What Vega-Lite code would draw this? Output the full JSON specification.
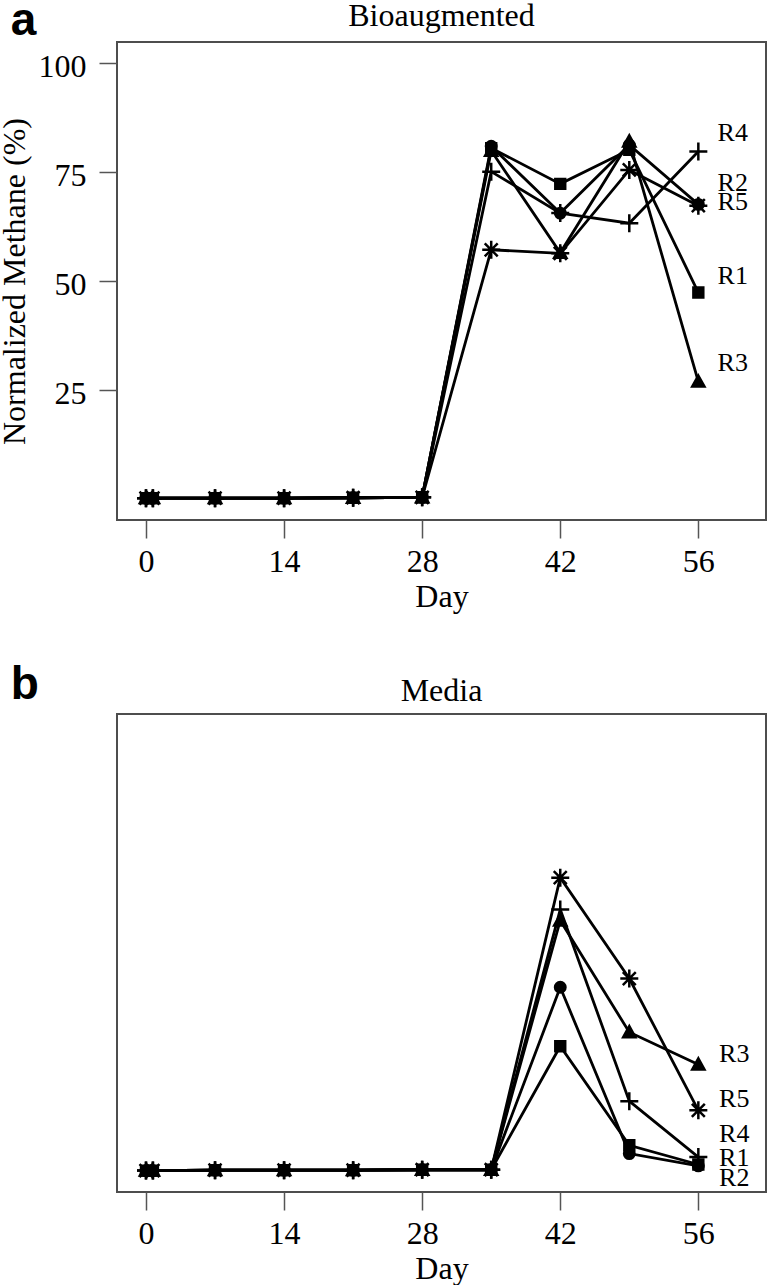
{
  "$schema": "https://vega.github.io/schema/vega-lite/v6.json",
  "background": "white",
  "padding": {"left": -3, "top": -3, "right": 0, "bottom": 0},
  "spacing": 48,
  "config": {
    "font": "Liberation Serif",
    "view": {"stroke": "#4d4d4d", "strokeWidth": 2},
    "axis": {
      "grid": false, "domain": false,
      "tickColor": "#555555", "tickSize": 18, "tickWidth": 1.5,
      "labelFont": "Liberation Serif", "labelFontSize": 32, "labelColor": "black",
      "labelFlush": false, "labelOverlap": false,
      "titleFont": "Liberation Serif", "titleFontSize": 32, "titleFontWeight": "normal", "titleColor": "black"
    },
    "title": {"font": "Liberation Serif", "fontSize": 32, "fontWeight": "normal", "color": "black", "frame": "group", "anchor": "middle", "baseline": "alphabetic"}
  },
  "datasets": {
    "bio": [
      {"reactor": "R1", "day": 0, "value": 0.2}, {"reactor": "R1", "day": 0.7, "value": 0.2}, {"reactor": "R1", "day": 7, "value": 0.2}, {"reactor": "R1", "day": 14, "value": 0.2}, {"reactor": "R1", "day": 21, "value": 0.3}, {"reactor": "R1", "day": 28, "value": 0.4},
      {"reactor": "R1", "day": 35, "value": 80.4}, {"reactor": "R1", "day": 42, "value": 72.2}, {"reactor": "R1", "day": 49, "value": 80.0}, {"reactor": "R1", "day": 56, "value": 47.3},
      {"reactor": "R2", "day": 0, "value": 0.2}, {"reactor": "R2", "day": 0.7, "value": 0.2}, {"reactor": "R2", "day": 7, "value": 0.2}, {"reactor": "R2", "day": 14, "value": 0.2}, {"reactor": "R2", "day": 21, "value": 0.3}, {"reactor": "R2", "day": 28, "value": 0.4},
      {"reactor": "R2", "day": 35, "value": 80.8}, {"reactor": "R2", "day": 42, "value": 65.5}, {"reactor": "R2", "day": 49, "value": 81.1}, {"reactor": "R2", "day": 56, "value": 67.5},
      {"reactor": "R3", "day": 0, "value": 0.2}, {"reactor": "R3", "day": 0.7, "value": 0.2}, {"reactor": "R3", "day": 7, "value": 0.2}, {"reactor": "R3", "day": 14, "value": 0.2}, {"reactor": "R3", "day": 21, "value": 0.3}, {"reactor": "R3", "day": 28, "value": 0.4},
      {"reactor": "R3", "day": 35, "value": 79.8}, {"reactor": "R3", "day": 42, "value": 56.4}, {"reactor": "R3", "day": 49, "value": 81.9}, {"reactor": "R3", "day": 56, "value": 26.9},
      {"reactor": "R4", "day": 0, "value": 0.2}, {"reactor": "R4", "day": 0.7, "value": 0.2}, {"reactor": "R4", "day": 7, "value": 0.2}, {"reactor": "R4", "day": 14, "value": 0.2}, {"reactor": "R4", "day": 21, "value": 0.3}, {"reactor": "R4", "day": 28, "value": 0.4},
      {"reactor": "R4", "day": 35, "value": 75.0}, {"reactor": "R4", "day": 42, "value": 65.5}, {"reactor": "R4", "day": 49, "value": 63.2}, {"reactor": "R4", "day": 56, "value": 79.6},
      {"reactor": "R5", "day": 0, "value": 0.2}, {"reactor": "R5", "day": 0.7, "value": 0.2}, {"reactor": "R5", "day": 7, "value": 0.2}, {"reactor": "R5", "day": 14, "value": 0.2}, {"reactor": "R5", "day": 21, "value": 0.3}, {"reactor": "R5", "day": 28, "value": 0.4},
      {"reactor": "R5", "day": 35, "value": 57.1}, {"reactor": "R5", "day": 42, "value": 56.3}, {"reactor": "R5", "day": 49, "value": 75.4}, {"reactor": "R5", "day": 56, "value": 67.2}
    ],
    "media": [
      {"reactor": "R1", "day": 0, "value": 0.1}, {"reactor": "R1", "day": 0.7, "value": 0.1}, {"reactor": "R1", "day": 7, "value": 0.2}, {"reactor": "R1", "day": 14, "value": 0.2}, {"reactor": "R1", "day": 21, "value": 0.2}, {"reactor": "R1", "day": 28, "value": 0.3}, {"reactor": "R1", "day": 35, "value": 0.3},
      {"reactor": "R1", "day": 42, "value": 28.6}, {"reactor": "R1", "day": 49, "value": 5.9}, {"reactor": "R1", "day": 56, "value": 1.5},
      {"reactor": "R2", "day": 0, "value": 0.1}, {"reactor": "R2", "day": 0.7, "value": 0.1}, {"reactor": "R2", "day": 7, "value": 0.2}, {"reactor": "R2", "day": 14, "value": 0.2}, {"reactor": "R2", "day": 21, "value": 0.2}, {"reactor": "R2", "day": 28, "value": 0.3}, {"reactor": "R2", "day": 35, "value": 0.3},
      {"reactor": "R2", "day": 42, "value": 42.1}, {"reactor": "R2", "day": 49, "value": 4.0}, {"reactor": "R2", "day": 56, "value": 1.2},
      {"reactor": "R3", "day": 0, "value": 0.1}, {"reactor": "R3", "day": 0.7, "value": 0.1}, {"reactor": "R3", "day": 7, "value": 0.2}, {"reactor": "R3", "day": 14, "value": 0.2}, {"reactor": "R3", "day": 21, "value": 0.2}, {"reactor": "R3", "day": 28, "value": 0.3}, {"reactor": "R3", "day": 35, "value": 0.3},
      {"reactor": "R3", "day": 42, "value": 57.4}, {"reactor": "R3", "day": 49, "value": 31.8}, {"reactor": "R3", "day": 56, "value": 24.4},
      {"reactor": "R4", "day": 0, "value": 0.1}, {"reactor": "R4", "day": 0.7, "value": 0.1}, {"reactor": "R4", "day": 7, "value": 0.2}, {"reactor": "R4", "day": 14, "value": 0.2}, {"reactor": "R4", "day": 21, "value": 0.2}, {"reactor": "R4", "day": 28, "value": 0.3}, {"reactor": "R4", "day": 35, "value": 0.3},
      {"reactor": "R4", "day": 42, "value": 59.9}, {"reactor": "R4", "day": 49, "value": 16.0}, {"reactor": "R4", "day": 56, "value": 3.2},
      {"reactor": "R5", "day": 0, "value": 0.1}, {"reactor": "R5", "day": 0.7, "value": 0.1}, {"reactor": "R5", "day": 7, "value": 0.2}, {"reactor": "R5", "day": 14, "value": 0.2}, {"reactor": "R5", "day": 21, "value": 0.2}, {"reactor": "R5", "day": 28, "value": 0.3}, {"reactor": "R5", "day": 35, "value": 0.3},
      {"reactor": "R5", "day": 42, "value": 67.2}, {"reactor": "R5", "day": 49, "value": 44.1}, {"reactor": "R5", "day": 56, "value": 13.9}
    ],
    "labA": [
      {"reactor": "R4", "day": 57.95, "value": 83.8},
      {"reactor": "R2", "day": 57.95, "value": 72.4},
      {"reactor": "R5", "day": 57.95, "value": 68.1},
      {"reactor": "R1", "day": 57.95, "value": 51.0},
      {"reactor": "R3", "day": 57.95, "value": 31.1}
    ],
    "labB": [
      {"reactor": "R3", "day": 58.1, "value": 26.9},
      {"reactor": "R5", "day": 58.1, "value": 16.6},
      {"reactor": "R4", "day": 58.1, "value": 8.6},
      {"reactor": "R1", "day": 58.1, "value": 3.1},
      {"reactor": "R2", "day": 58.1, "value": -1.7}
    ]
  },
  "vconcat": [
    {
      "width": 649, "height": 478,
      "title": {"text": "Bioaugmented", "offset": -35},
      "layer": [
        {"mark": {"type": "rule", "color": "black", "strokeWidth": 2.7, "strokeDash": [2.7, 7]},
         "encoding": {"x": {"datum": 28, "type": "quantitative"}}},
        {"data": {"name": "bio"},
         "mark": {"type": "line", "color": "black", "strokeWidth": 2.8},
         "encoding": {
           "x": {"field": "day", "type": "quantitative",
                 "scale": {"domain": [-2.94, 62.86], "nice": false, "zero": false},
                 "axis": {"values": [0, 14, 28, 42, 56], "title": "Day", "labelPadding": 8, "titlePadding": 4}},
           "y": {"field": "value", "type": "quantitative",
                 "scale": {"domain": [-4.8, 104.7], "nice": false, "zero": false},
                 "axis": {"values": [25, 50, 75, 100], "title": "Normalized Methane (%)", "labelPadding": 13, "labelOffset": 4, "titlePadding": 7}},
           "detail": {"field": "reactor"}}},
        {"data": {"name": "bio"},
         "mark": {"type": "point", "filled": true, "color": "black", "stroke": "black", "strokeWidth": 2.5, "opacity": 1, "size": 324},
         "encoding": {
           "x": {"field": "day", "type": "quantitative"},
           "y": {"field": "value", "type": "quantitative"},
           "shape": {"field": "reactor", "type": "nominal", "legend": null,
             "scale": {"domain": ["R1", "R2", "R3", "R4", "R5"],
                       "range": ["M-0.55,-0.55H0.55V0.55H-0.55Z",
                                 "M-0.58,0A0.58,0.58,0,1,1,0.58,0A0.58,0.58,0,1,1,-0.58,0Z",
                                 "M0,-0.68L0.68,0.55L-0.68,0.55Z",
                                 "M-1,0H1M0,-1V1",
                                 "M-1,0H1M0,-1V1M-0.72,-0.72L0.72,0.72M-0.72,0.72L0.72,-0.72"]}}}},
        {"data": {"name": "labA"},
         "mark": {"type": "text", "align": "left", "baseline": "middle", "font": "Liberation Serif", "fontSize": 26, "color": "black"},
         "encoding": {
           "x": {"field": "day", "type": "quantitative"},
           "y": {"field": "value", "type": "quantitative"},
           "text": {"field": "reactor"}}},
        {"data": {"values": [{"tag": "a"}]},
         "mark": {"type": "text", "align": "left", "baseline": "alphabetic", "font": "Liberation Sans", "fontWeight": "bold", "fontSize": 46, "color": "black"},
         "encoding": {"x": {"datum": -13.7, "type": "quantitative"}, "y": {"datum": 106.3, "type": "quantitative"}, "text": {"field": "tag"}}}
      ]
    },
    {
      "width": 649, "height": 478,
      "title": {"text": "Media", "offset": -46},
      "layer": [
        {"mark": {"type": "rule", "color": "black", "strokeWidth": 2.7, "strokeDash": [2.7, 7]},
         "encoding": {"x": {"datum": 28, "type": "quantitative"}}},
        {"data": {"name": "media"},
         "mark": {"type": "line", "color": "black", "strokeWidth": 2.8},
         "encoding": {
           "x": {"field": "day", "type": "quantitative",
                 "scale": {"domain": [-2.94, 62.86], "nice": false, "zero": false},
                 "axis": {"values": [0, 14, 28, 42, 56], "title": "Day", "labelPadding": 8, "titlePadding": 4}},
           "y": {"field": "value", "type": "quantitative",
                 "scale": {"domain": [-4.8, 104.7], "nice": false, "zero": false},
                 "axis": null},
           "detail": {"field": "reactor"}}},
        {"data": {"name": "media"},
         "mark": {"type": "point", "filled": true, "color": "black", "stroke": "black", "strokeWidth": 2.5, "opacity": 1, "size": 324},
         "encoding": {
           "x": {"field": "day", "type": "quantitative"},
           "y": {"field": "value", "type": "quantitative", "axis": null},
           "shape": {"field": "reactor", "type": "nominal", "legend": null,
             "scale": {"domain": ["R1", "R2", "R3", "R4", "R5"],
                       "range": ["M-0.55,-0.55H0.55V0.55H-0.55Z",
                                 "M-0.58,0A0.58,0.58,0,1,1,0.58,0A0.58,0.58,0,1,1,-0.58,0Z",
                                 "M0,-0.68L0.68,0.55L-0.68,0.55Z",
                                 "M-1,0H1M0,-1V1",
                                 "M-1,0H1M0,-1V1M-0.72,-0.72L0.72,0.72M-0.72,0.72L0.72,-0.72"]}}}},
        {"data": {"name": "labB"},
         "mark": {"type": "text", "align": "left", "baseline": "middle", "font": "Liberation Serif", "fontSize": 26, "color": "black"},
         "encoding": {
           "x": {"field": "day", "type": "quantitative"},
           "y": {"field": "value", "type": "quantitative", "axis": null},
           "text": {"field": "reactor"}}},
        {"data": {"values": [{"tag": "b"}]},
         "mark": {"type": "text", "align": "left", "baseline": "alphabetic", "font": "Liberation Sans", "fontWeight": "bold", "fontSize": 46, "color": "black"},
         "encoding": {"x": {"datum": -13.7, "type": "quantitative"}, "y": {"datum": 108.1, "type": "quantitative", "axis": null}, "text": {"field": "tag"}}}
      ]
    }
  ]
}
